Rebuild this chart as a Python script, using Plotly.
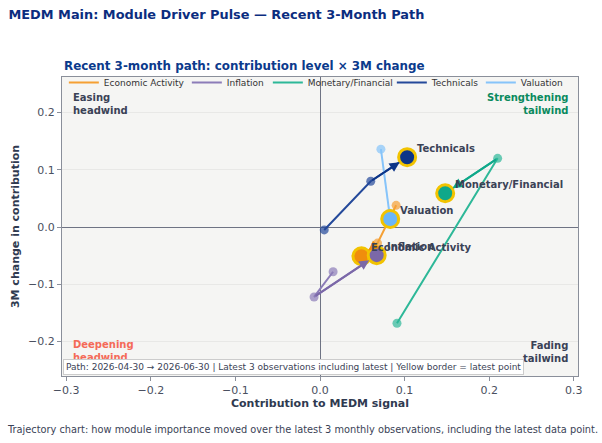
import plotly.graph_objects as go

modules = ["Economic Activity", "Inflation", "Monetary/Financial", "Technicals", "Valuation"]
dates = ["2026-04-30", "2026-05-31", "2026-06-30"]
contrib = {
    "Economic Activity": [0.090, 0.068, 0.049],
    "Inflation": [0.0155, -0.007, 0.067],
    "Monetary/Financial": [0.091, 0.210, 0.148],
    "Technicals": [0.005, 0.060, 0.103],
    "Valuation": [0.072, 0.0825, 0.083],
}
change3m = {
    "Economic Activity": [0.038, -0.028, -0.051],
    "Inflation": [-0.078, -0.122, -0.049],
    "Monetary/Financial": [-0.168, 0.120, 0.059],
    "Technicals": [-0.005, 0.080, 0.122],
    "Valuation": [0.136, 0.024, 0.014],
}
line_colors = {
    "Economic Activity": "#F5A033",
    "Inflation": "#8C7CB8",
    "Monetary/Financial": "#2DB898",
    "Technicals": "#24499A",
    "Valuation": "#86C4FA",
}
fill_colors = {
    "Economic Activity": "#F08D0C",
    "Inflation": "#7B68A8",
    "Monetary/Financial": "#0FA88A",
    "Technicals": "#0C3588",
    "Valuation": "#6AB6F7",
}
legend_widths = {
    "Economic Activity": 78,
    "Inflation": 36,
    "Monetary/Financial": 79,
    "Technicals": 44,
    "Valuation": 40,
}

fig = go.Figure()
label_color = "#3A4256"
for m in modules:
    xs, ys = contrib[m], change3m[m]
    fig.add_trace(go.Scatter(
        x=xs, y=ys, mode="lines", name=m, legendwidth=legend_widths[m],
        line=dict(color=line_colors[m], width=2), legendgroup=m,
    ))
    fig.add_trace(go.Scatter(
        x=xs[:-1], y=ys[:-1], mode="markers", showlegend=False, legendgroup=m,
        marker=dict(size=9, color=line_colors[m], opacity=0.7),
    ))
for m in modules:
    xs, ys = contrib[m], change3m[m]
    fig.add_annotation(
        x=xs[-1], y=ys[-1], ax=xs[-2], ay=ys[-2], xref="x", yref="y",
        axref="x", ayref="y", showarrow=True, arrowhead=2, arrowsize=1,
        arrowwidth=2, arrowcolor=fill_colors[m], standoff=9, text="",
    )
for m in modules:
    xs, ys = contrib[m], change3m[m]
    fig.add_trace(go.Scatter(
        x=[xs[-1]], y=[ys[-1]], mode="markers", showlegend=False, legendgroup=m,
        marker=dict(size=17, color=fill_colors[m], line=dict(color="#F2C300", width=3)),
    ))
    fig.add_annotation(
        x=xs[-1], y=ys[-1], text=f"<b>{m}</b>", showarrow=False,
        xanchor="left", yanchor="middle", xshift=8, yshift=9,
        font=dict(size=10, color=label_color),
    )

corner = [
    ("Easing<br>headwind", 0.017, 0.955, "left", "top", label_color),
    ("Strengthening<br>tailwind", 0.985, 0.955, "right", "top", "#0A8A5E"),
    ("Deepening<br>headwind", 0.017, 0.037, "left", "bottom", "#F46A58"),
    ("Fading<br>tailwind", 0.985, 0.035, "right", "bottom", label_color),
]
for t, x, y, xa, ya, c in corner:
    fig.add_annotation(x=x, y=y, xref="paper", yref="paper", text=f"<b>{t}</b>",
                       showarrow=False, xanchor=xa, yanchor=ya, align=xa,
                       font=dict(size=10, color=c))

fig.add_annotation(
    x=0.002, y=0.003, xref="paper", yref="paper", xanchor="left", yanchor="bottom",
    text=f"Path: {dates[0]} → {dates[-1]} | Latest 3 observations including latest | Yellow border = latest point",
    showarrow=False, bgcolor="white", bordercolor="#CCCCCC", borderwidth=1, borderpad=2,
    font=dict(size=9, color="#3A4256"),
)
fig.add_annotation(
    x=0.5, y=-0.18, xref="paper", yref="paper", yanchor="middle", xshift=-18,
    text="Trajectory chart: how module importance moved over the latest 3 monthly observations, including the latest data point.",
    showarrow=False, font=dict(size=9.8, color="#3A4256"),
)
fig.update_layout(
    width=602, height=443,
    margin=dict(l=62, r=24, t=77, b=67),
    paper_bgcolor="white", plot_bgcolor="#F5F5F3",
    font=dict(family="DejaVu Sans", color="#3A4256"),
    title=dict(text="<b>MEDM Main: Module Driver Pulse — Recent 3-Month Path</b>",
               x=0.014, xanchor="left", y=0.968, yanchor="middle",
               font=dict(size=12.9, color="#0B2D7F")),
    legend=dict(orientation="h", x=0.49, xanchor="center", y=1.03, yanchor="top",
                bgcolor="rgba(0,0,0,0)", font=dict(size=9, color="#333333")),
    showlegend=True,
)
fig.add_annotation(
    x=0, y=1.0, xref="paper", yref="paper", xanchor="left", yanchor="bottom", yshift=2,
    text="<b>Recent 3-month path: contribution level × 3M change</b>", showarrow=False,
    font=dict(size=11.9, color="#0B3A8C"),
)
fig.update_xaxes(
    range=[-0.305, 0.305], tickvals=[-0.3, -0.2, -0.1, 0, 0.1, 0.2, 0.3],
    ticktext=["−0.3", "−0.2", "−0.1", "0.0", "0.1", "0.2", "0.3"],
    showgrid=False, zeroline=True, zerolinecolor="#6E7383", zerolinewidth=1,
    showline=True, linecolor="#8A8F9A", mirror=True, ticks="outside", ticklen=4,
    tickcolor="#8A8F9A", tickfont=dict(size=11, color="#4A5060"),
    title=dict(text="<b>Contribution to MEDM signal</b>", font=dict(size=11, color="#2F3A50"), standoff=2),
)
fig.update_yaxes(
    range=[-0.26, 0.262], tickvals=[-0.2, -0.1, 0, 0.1, 0.2],
    ticktext=["−0.2", "−0.1", "0.0", "0.1", "0.2"],
    showgrid=True, gridcolor="#E8E8E6", zeroline=True, zerolinecolor="#6E7383", zerolinewidth=1,
    showline=True, linecolor="#8A8F9A", mirror=True, ticks="outside", ticklen=4,
    tickcolor="#8A8F9A", tickfont=dict(size=11, color="#4A5060"),
    title=dict(text="<b>3M change in contribution</b>", font=dict(size=11, color="#2F3A50"), standoff=6),
)
fig.write_html("out.html")
